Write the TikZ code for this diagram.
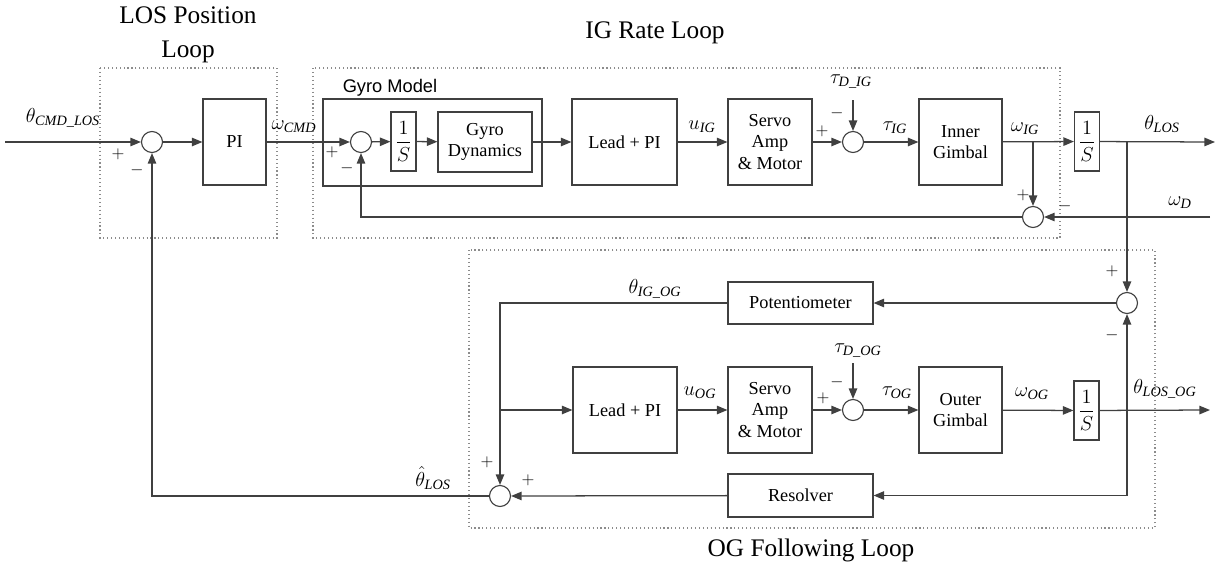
\documentclass[tikz,border=0pt]{standalone}
\usepackage{amsmath}
\usepackage{fontspec}
\setmainfont{Liberation Serif}
\newfontfamily\gyrofont{Liberation Sans}
\usetikzlibrary{positioning,arrows.meta}

\tikzset{
  blk/.style 2 args={draw=black!75, line width=0.8pt, minimum width=#1*0.025cm,
    minimum height=#2*0.025cm, inner sep=0pt, align=center,
    font=\fontsize{13}{15}\selectfont},
  intblk/.style={blk={25}{59}, font=\fontsize{15}{17}\selectfont},
  sumjn/.style={draw=black!75, line width=0.8pt, circle, minimum size=0.525cm, inner sep=0pt},
  sig/.style={draw=black!75, line width=0.9pt, -{Triangle[length=7.5pt,width=6pt]}},
  loopbox/.style={draw=black!45, dotted, line width=0.8pt},
  lbl/.style={font=\fontsize{14.5}{16}\selectfont, inner sep=0pt},
  sgn/.style={font=\fontsize{12}{12}\selectfont, inner sep=0pt},
  ttl/.style={font=\fontsize{18}{24}\selectfont, align=center}
}

\begin{document}
\begin{tikzpicture}[x=0.025cm,y=-0.025cm]
\useasboundingbox (0,0) rectangle (1222,566);

% Loop frames and titles
\draw[loopbox] (100,68) rectangle (277,238);
\draw[loopbox] (313,68) rectangle (1060,238);
\draw[loopbox] (469,250) rectangle (1155,528);
\node[ttl] (tlos) at (188,35) {LOS Position\\Loop};
\node[ttl] (tig) at (655,33) {IG Rate Loop};
\node[ttl] (tog) at (811,550) {OG Following Loop};

% IG rate loop blocks
\node[blk={219}{87}] (gyromodel) at (432.5,142.5) {};
\node[font=\gyrofont\fontsize{13}{15}\selectfont] (gyrolbl) at (390,88) {Gyro Model};
\node[sumjn] (sumA) at (152,142) {};
\node[blk={63}{86}] (pi) at (234.5,142) {PI};
\node[sumjn] (sumB) at (361,142) {};
\node[intblk] (intA) at (403.5,141.5) {$\dfrac{1}{S}$};
\node[blk={94}{60}] (gyrodyn) at (485,142) {Gyro\\Dynamics};
\node[blk={105}{86}] (leadig) at (624.5,142) {Lead + PI};
\node[blk={84}{86}] (servoig) at (770,142) {Servo\\Amp\\\& Motor};
\node[sumjn] (sumC) at (853,142) {};
\node[blk={83}{86}] (innerg) at (960.5,142) {Inner\\Gimbal};
\node[sumjn] (sumD) at (1033,217) {};
\node[intblk] (intB) at (1087,141.5) {$\dfrac{1}{S}$};

% OG following loop blocks
\node[sumjn] (sumE) at (1127,303) {};
\node[blk={145}{42}] (pot) at (800.5,303) {Potentiometer};
\node[blk={104}{86}] (leadog) at (625,410) {Lead + PI};
\node[blk={84}{86}] (servoog) at (770,410) {Servo\\Amp\\\& Motor};
\node[sumjn] (sumG) at (853,410) {};
\node[blk={83}{86}] (outerg) at (960.5,410) {Outer\\Gimbal};
\node[intblk] (intC) at (1086.5,410.5) {$\dfrac{1}{S}$};
\node[blk={145}{43}] (resolver) at (800.5,495.5) {Resolver};
\node[sumjn] (sumF) at (500,496) {};

% free ends and branch points
\coordinate (cmdin) at (5,142);
\coordinate (tdig) at (853,100);
\coordinate (tdog) at (853,363);
\coordinate (brIG) at (1033,142);
\coordinate (brLOS) at (1127,142);
\coordinate (losout) at (1215,142);
\coordinate (wdin) at (1210,217);
\coordinate (brOG) at (500,410);
\coordinate (brOut) at (1127,410);
\coordinate (ogout) at (1210,410);

% forward paths
\draw[sig] (cmdin) -- (sumA);
\draw[sig] (sumA) -- (pi);
\draw[sig] (pi) -- (sumB);
\draw[sig] (sumB) -- (intA);
\draw[sig] (intA) -- (gyrodyn);
\draw[sig] (gyrodyn) -- (leadig);
\draw[sig] (leadig) -- (servoig);
\draw[sig] (servoig) -- (sumC);
\draw[sig] (tdig) -- (sumC);
\draw[sig] (sumC) -- (innerg);
\draw[sig] (innerg) -- (intB);
\draw[sig] (intB) -- (losout);
\draw[sig] (brIG) -- (sumD);
\draw[sig] (wdin) -- (sumD);
\draw[sig] (sumD) -| (sumB);
\draw[sig] (brLOS) -- (sumE);
\draw[sig] (sumE) -- (pot);
\draw[sig] (pot) -| (sumF);
\draw[sig] (brOG) -- (leadog);
\draw[sig] (leadog) -- (servoog);
\draw[sig] (servoog) -- (sumG);
\draw[sig] (tdog) -- (sumG);
\draw[sig] (sumG) -- (outerg);
\draw[sig] (outerg) -- (intC);
\draw[sig] (intC) -- (ogout);
\draw[sig] (brOut) -- (sumE);
\draw[sig] (brOut) |- (resolver);
\draw[sig] (resolver) -- (sumF);
\draw[sig] (sumF) -| (sumA);

% signal labels
\node[lbl] (lcmd) at (63,118) {$\theta_{\mathit{CMD\_LOS}}$};
\node[lbl] (lwcmd) at (294,127) {$\omega_{\mathit{CMD}}$};
\node[lbl] (luig) at (702,127) {$u_{\mathit{IG}}$};
\node[lbl] (ltdig) at (851,82) {$\tau_{\mathit{D\_IG}}$};
\node[lbl] (ltig) at (895,128) {$\tau_{\mathit{IG}}$};
\node[lbl] (lwig) at (1025,129) {$\omega_{\mathit{IG}}$};
\node[lbl] (lthlos) at (1162,124) {$\theta_{\mathit{LOS}}$};
\node[lbl] (lwd) at (1180,203) {$\omega_{\mathit{D}}$};
\node[lbl] (lthigog) at (655,289) {$\theta_{\mathit{IG\_OG}}$};
\node[lbl] (luog) at (700,393) {$u_{\mathit{OG}}$};
\node[lbl] (ltdog) at (858,351) {$\tau_{\mathit{D\_OG}}$};
\node[lbl] (ltog) at (897,393) {$\tau_{\mathit{OG}}$};
\node[lbl] (lwog) at (1032,394) {$\omega_{\mathit{OG}}$};
\node[lbl] (lthlosog) at (1165,389) {$\theta_{\mathit{LOS\_OG}}$};
\node[lbl] (lthhat) at (433,478) {$\hat{\theta}_{\mathit{LOS}}$};

% summing signs
\node[sgn] at (118,154) {$+$};
\node[sgn] at (137,170) {$-$};
\node[sgn] at (332,152) {$+$};
\node[sgn] at (347,168) {$-$};
\node[sgn] at (822,131) {$+$};
\node[sgn] at (837,113) {$-$};
\node[sgn] at (1023,195) {$+$};
\node[sgn] at (1065,206) {$-$};
\node[sgn] at (1112,271) {$+$};
\node[sgn] at (1112,335) {$-$};
\node[sgn] at (823,398) {$+$};
\node[sgn] at (837,382) {$-$};
\node[sgn] at (487,462) {$+$};
\node[sgn] at (528,480) {$+$};
\end{tikzpicture}
\end{document}
